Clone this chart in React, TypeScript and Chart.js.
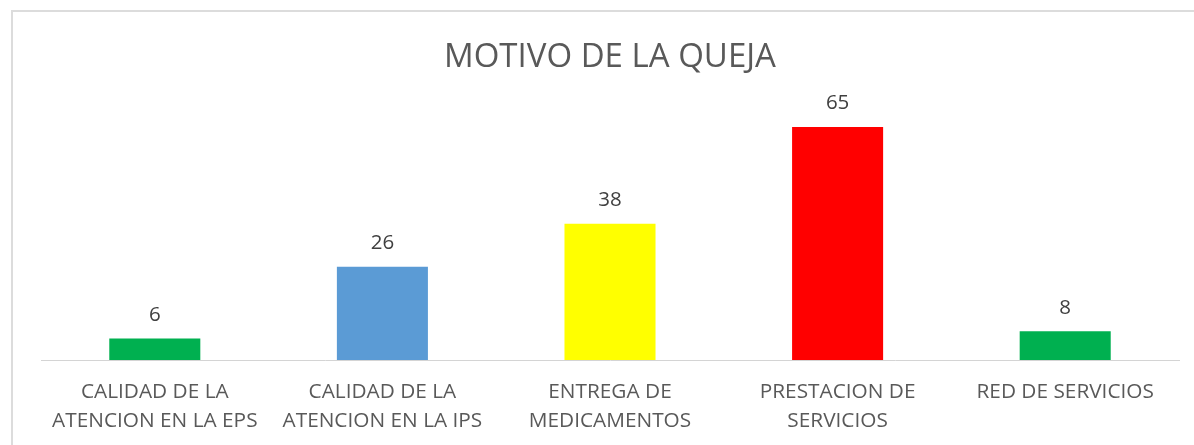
import React, { useEffect, useRef } from "react";
import { Chart, registerables } from "chart.js";

Chart.register(...registerables);

const chartTitle = "MOTIVO DE LA QUEJA";
const categories: string[][] = [
  ["CALIDAD DE LA", "ATENCION EN LA EPS"],
  ["CALIDAD DE LA", "ATENCION EN LA IPS"],
  ["ENTREGA DE", "MEDICAMENTOS"],
  ["PRESTACION DE", "SERVICIOS"],
  ["RED DE SERVICIOS"],
];
const quejas: number[] = [6, 26, 38, 65, 8];
const barColors: string[] = ["#00B050", "#5B9BD5", "#FFFF00", "#FF0000", "#00B050"];

const FONT = "'Open Sans', 'Noto Sans', sans-serif";

const decorPlugin = {
  id: "decor",
  beforeDraw(chart: any) {
    const ctx = chart.ctx;
    ctx.save();
    ctx.fillStyle = "#ffffff";
    ctx.fillRect(0, 0, chart.width, chart.height);
    ctx.strokeStyle = "#dcdcdc";
    ctx.lineWidth = 2;
    ctx.strokeRect(12, 11, chart.width + 20, chart.height + 20);
    ctx.restore();
  },
  afterDraw(chart: any) {
    const ctx = chart.ctx;
    ctx.save();
    ctx.fillStyle = "#595959";
    ctx.font = `33px ${FONT}`;
    ctx.textAlign = "center";
    ctx.textBaseline = "alphabetic";
    ctx.fillText(chartTitle, 610, 67);
    ctx.restore();
  },
  afterDatasetsDraw(chart: any) {
    const ctx = chart.ctx;
    const meta = chart.getDatasetMeta(0);
    const data = chart.data.datasets[0].data;
    ctx.save();
    ctx.fillStyle = "#404040";
    ctx.font = `20.5px ${FONT}`;
    ctx.textAlign = "center";
    ctx.textBaseline = "alphabetic";
    meta.data.forEach((el: any, i: number) => {
      ctx.fillText(String(data[i]), el.x, el.y - 17.5);
    });
    ctx.restore();
  },
};

export default function App() {
  const ref = useRef<HTMLCanvasElement | null>(null);
  useEffect(() => {
    if (!ref.current) return;
    const chart = new Chart(ref.current, {
      type: "bar",
      data: {
        labels: categories,
        datasets: [
          {
            data: quejas,
            backgroundColor: barColors,
            borderWidth: 0,
            categoryPercentage: 1,
            barPercentage: 0.4,
          },
        ],
      },
      options: {
        animation: false,
        responsive: false,
        devicePixelRatio: 1,
        layout: { padding: { top: 109, left: 41, right: 15, bottom: 0 } },
        plugins: {
          legend: { display: false },
          title: { display: false },
          tooltip: { enabled: false },
        },
        scales: {
          x: {
            grid: { display: false, drawTicks: false },
            border: { display: true, color: "#d4d4d4", width: 1 },
            ticks: {
              color: "#595959",
              font: { family: FONT, size: 20.8, lineHeight: 1.37 },
              padding: 18,
              maxRotation: 0,
              autoSkip: false,
            },
            afterFit(scale: any) {
              scale.height = 85;
              scale.paddingLeft = 0;
              scale.paddingRight = 0;
            },
          },
          y: {
            display: false,
            min: 0,
            max: 70,
          },
        },
      },
      plugins: [decorPlugin],
    });
    return () => chart.destroy();
  }, []);
  return (
    <div style={{ position: "fixed", left: 0, top: 0, width: 1194, height: 445, background: "#fff" }}>
      <canvas ref={ref} width={1194} height={445} style={{ display: "block", width: 1194, height: 445 }} />
    </div>
  );
}
